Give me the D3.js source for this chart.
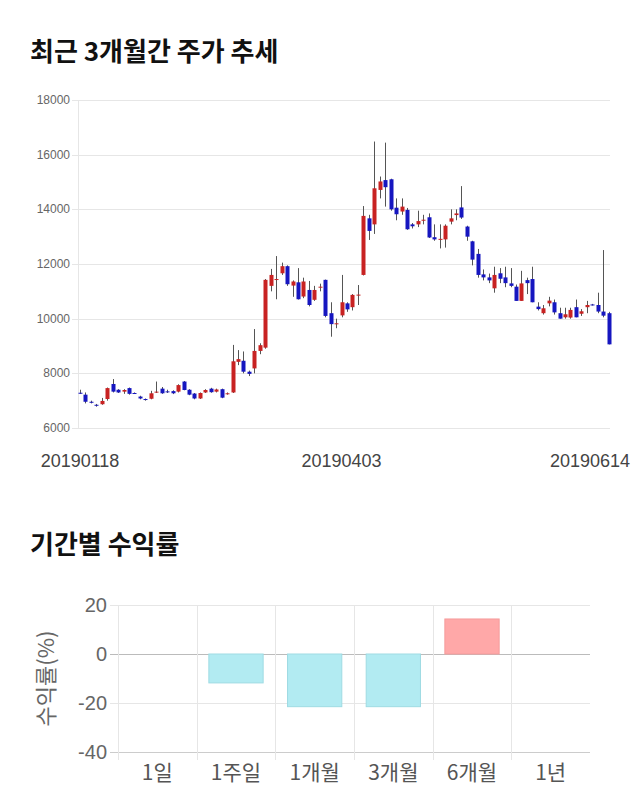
<!DOCTYPE html>
<html>
<head>
<meta charset="utf-8">
<script src="https://cdn.jsdelivr.net/npm/d3@7"></script>
<style>
  body { margin: 0; background: #fff; }
  text { font-family: "Liberation Sans", Arial, sans-serif; }
  .kr { font-family: "Noto Sans CJK KR", sans-serif; }
</style>
</head>
<body>
<svg id="chart" width="640" height="810"></svg>
<script>
// trading days shown on the price chart
var dates = [
  "20190118","20190121","20190122","20190123","20190124","20190125","20190128","20190129","20190130","20190131",
  "20190207","20190208","20190211","20190212","20190213","20190214","20190215","20190218","20190219","20190220",
  "20190221","20190222","20190225","20190226","20190227","20190228","20190304","20190305","20190306","20190307",
  "20190308","20190311","20190312","20190313","20190314","20190315","20190318","20190319","20190320","20190321",
  "20190322","20190325","20190326","20190327","20190328","20190329","20190401","20190402","20190403","20190404",
  "20190405","20190408","20190409","20190410","20190411","20190412","20190415","20190416","20190417","20190418",
  "20190419","20190422","20190423","20190424","20190425","20190426","20190429","20190430","20190502","20190503",
  "20190507","20190508","20190509","20190510","20190513","20190514","20190515","20190516","20190517","20190520",
  "20190521","20190522","20190523","20190524","20190527","20190528","20190529","20190530","20190531","20190603",
  "20190604","20190605","20190607","20190610","20190611","20190612","20190613","20190614"
];
var opens = [
  7290,7220,6960,6850,6870,7060,7610,7400,7330,7460, 7280,7150,7060,7070,7320,7440,7340,7350,7330,7700,
  7400,7260,7080,7300,7440,7330,7420,7260,7300,8420, 8460,8060,8180,8820,8940,11200,11430,11660,11920,11210,
  11330,10810,11050,10690,11160,11420,10200,9820,10120,10560, 10420,10860,11600,13670,13450,14710,15070,15100,14060,13920,
  13980,13450,13450,13600,13710,12980,12910,12900,13550,13790, 14070,13370,12830,12370,11620,11510,11110,11660,11510,11290,
  11170,10650,11410,11450,10440,10200,10560,10600,10200,10050, 10040,10420,10180,10420,10520,10500,10260,10200
];
var highs = [
  7400,7300,7000,6880,7100,7480,7790,7420,7420,7480, 7300,7180,7080,7360,7700,7500,7400,7380,7600,7720,
  7420,7280,7300,7420,7470,7440,7440,7300,9040,8850, 8800,8100,9620,9100,11450,11820,12290,12050,11950,11400,
  11850,11500,11380,11200,11280,11430,10600,10000,11600,10600, 10900,11230,14120,13800,16480,15200,16440,15120,14400,14400,
  14050,13500,13950,13800,13850,13450,13450,13450,14000,14000, 14850,13400,12850,12550,11800,11650,11900,11850,11900,11850,
  11250,11750,11500,11900,10600,10500,10800,10700,10400,10400, 10400,10700,10350,10650,10540,10950,12510,10250
];
var lows = [
  7250,6900,6900,6780,6850,7000,7300,7280,7250,7220, 7250,7050,7000,7050,7280,7250,7280,7240,7300,7380,
  7200,7050,7060,7280,7290,7300,7090,7220,7280,8300, 8000,7900,8000,8700,8900,11000,10710,11600,11200,10800,
  10700,10750,10450,10650,11000,10050,9340,9650,10050,10250, 10300,10500,11580,12880,13100,14400,14100,13950,13600,13800,
  13250,13300,13350,13450,12950,12850,12570,12600,13450,13600, 13650,12850,11950,11500,11400,11300,10950,11300,11150,11150,
  10650,10650,10900,10600,10300,10150,10450,10150,10000,10000, 10000,10050,10100,10200,10480,10200,10050,9060
];
var closes = [
  7280,6960,6950,6820,6990,7460,7330,7300,7390,7250, 7270,7080,7050,7270,7330,7270,7330,7270,7570,7390,
  7220,7080,7280,7390,7310,7410,7110,7270,8440,8520, 8060,7980,8820,9030,11420,11600,11450,11920,11260,11360,
  10710,11360,10500,11050,11170,10100,9800,9830,10600,10340, 10870,10880,13760,13210,14770,15020,14810,14000,13820,14100,
  13270,13380,13570,13620,12970,12900,12920,13400,13670,13850, 13700,13000,12160,11600,11510,11400,11600,11460,11300,11200,
  10650,11290,11300,10600,10350,10380,10660,10230,10000,10160, 10320,10050,10270,10500,10500,10260,10110,9060
];
var priceTicks = [6000, 8000, 10000, 12000, 14000, 16000, 18000];

// period returns (%)
var periods = ["1일", "1주일", "1개월", "3개월", "6개월", "1년"];
var returns = [0, -11.8, -21.5, -21.5, 14.3, 0];
var returnTicks = [-40, -20, 0, 20];

(function() {
var svg = d3.select("#chart");
var upColor = "#c82222", downColor = "#1616c0";

/* ------- TITLES ------- */
svg.append("text").attr("class", "kr")
  .attr("x", 30).attr("y", 61)
  .attr("font-size", "26px").attr("font-weight", "bold").attr("fill", "#111")
  .text("최근 3개월간 주가 추세");
svg.append("text").attr("class", "kr")
  .attr("x", 30).attr("y", 554)
  .attr("font-size", "26px").attr("font-weight", "bold").attr("fill", "#111")
  .text("기간별 수익률");

/* ------- CANDLESTICK CHART ------- */
var pl = 78, pr = 610, pt = 100, pb = 428;
var x = d3.scaleBand().domain(dates).range([pl - 1.4, pr + 2]).padding(0.25);
var y = d3.scaleLinear().domain([6000, 18000]).range([pb, pt]);

var grid = svg.append("g");
grid.selectAll("line.h").data(priceTicks).enter().append("line")
  .attr("x1", pl - 6).attr("x2", pr)
  .attr("y1", function(d) { return Math.round(y(d)) + 0.5; })
  .attr("y2", function(d) { return Math.round(y(d)) + 0.5; })
  .style("stroke", "#e6e6e6");
grid.append("line")
  .attr("x1", pl + 0.5).attr("x2", pl + 0.5)
  .attr("y1", pt).attr("y2", pb)
  .style("stroke", "#e6e6e6");
grid.selectAll("text").data(priceTicks).enter().append("text")
  .attr("x", pl - 8).attr("y", function(d) { return y(d) + 4; })
  .attr("text-anchor", "end").attr("font-size", "12px").attr("fill", "#666")
  .text(function(d) { return d; });

var candles = svg.append("g").selectAll("g.candle")
  .data(dates.map(function(d, i) {
    return {date: d, o: opens[i], h: highs[i], l: lows[i], c: closes[i]};
  }))
  .enter().append("g").attr("class", "candle");

function cx(d) { return Math.round(x(d.date) + x.bandwidth() / 2); }

candles.append("line")
  .attr("x1", function(d) { return cx(d) + 0.5; })
  .attr("x2", function(d) { return cx(d) + 0.5; })
  .attr("y1", function(d) { return y(d.h); })
  .attr("y2", function(d) { return y(d.l); })
  .style("stroke", "#555").style("stroke-width", 1);

candles.append("rect")
  .attr("x", function(d) { return cx(d) - 1.5; })
  .attr("width", 4)
  .attr("y", function(d) { return y(Math.max(d.o, d.c)); })
  .attr("height", function(d) { return Math.max(1, Math.abs(y(d.o) - y(d.c))); })
  .style("fill", function(d) { return d.c > d.o ? upColor : d.c < d.o ? downColor : "#333"; });

var labelIdx = [0, Math.floor((dates.length - 1) / 2), dates.length - 1];
svg.append("g").selectAll("text").data(labelIdx).enter().append("text")
  .attr("x", function(i) { return Math.min(x(dates[i]) + x.bandwidth() / 2, 590); })
  .attr("y", 467)
  .attr("text-anchor", "middle").attr("font-size", "18px").attr("fill", "#444")
  .text(function(i) { return dates[i]; });

/* ------- RETURNS BAR CHART ------- */
var bl = 118, br = 590, bt = 605, bb = 752;
var bx = d3.scaleBand().domain(periods).range([bl, br]);
var by = d3.scaleLinear().domain([-40, 20]).range([bb, bt]);

var bgrid = svg.append("g");
bgrid.selectAll("line.h").data(returnTicks).enter().append("line")
  .attr("x1", bl - 8).attr("x2", br)
  .attr("y1", function(d) { return Math.round(by(d)) + 0.5; })
  .attr("y2", function(d) { return Math.round(by(d)) + 0.5; })
  .style("stroke", function(d) { return d == 0 ? "#bbb" : d == -40 ? "#ccc" : "#e6e6e6"; });
bgrid.selectAll("line.v").data(periods).enter().append("line")
  .attr("x1", function(d) { return Math.round(bx(d)) + 0.5; })
  .attr("x2", function(d) { return Math.round(bx(d)) + 0.5; })
  .attr("y1", bt).attr("y2", bb + 8)
  .style("stroke", "#e6e6e6");
bgrid.selectAll("text").data(returnTicks).enter().append("text")
  .attr("x", bl - 11).attr("y", function(d) { return by(d) + 7; })
  .attr("text-anchor", "end").attr("font-size", "20px").attr("fill", "#666")
  .text(function(d) { return d; });

svg.append("g").selectAll("rect").data(periods).enter().append("rect")
  .attr("x", function(d) { return bx(d) + bx.bandwidth() * 0.155; })
  .attr("width", bx.bandwidth() * 0.69)
  .attr("y", function(d, i) { return by(Math.max(0, returns[i])); })
  .attr("height", function(d, i) { return Math.abs(by(returns[i]) - by(0)); })
  .style("fill", function(d, i) { return returns[i] >= 0 ? "#ffa8a8" : "#b2ebf2"; })
  .style("stroke", function(d, i) { return returns[i] >= 0 ? "#f59c9c" : "#9fdbe3"; })
  .style("stroke-width", 1)
  .style("display", function(d, i) { return returns[i] == 0 ? "none" : null; });

svg.append("g").selectAll("text").data(periods).enter().append("text")
  .attr("class", "kr")
  .attr("x", function(d) { return bx(d) + bx.bandwidth() / 2; })
  .attr("y", 780)
  .attr("text-anchor", "middle").attr("font-size", "21px").attr("fill", "#555")
  .text(function(d) { return d; });

svg.append("text").attr("class", "kr")
  .attr("transform", "translate(54," + ((bt + bb) / 2) + ") rotate(-90)")
  .attr("text-anchor", "middle").attr("font-size", "22px").attr("fill", "#666")
  .text("수익률(%)");
})();
</script>
</body>
</html>
